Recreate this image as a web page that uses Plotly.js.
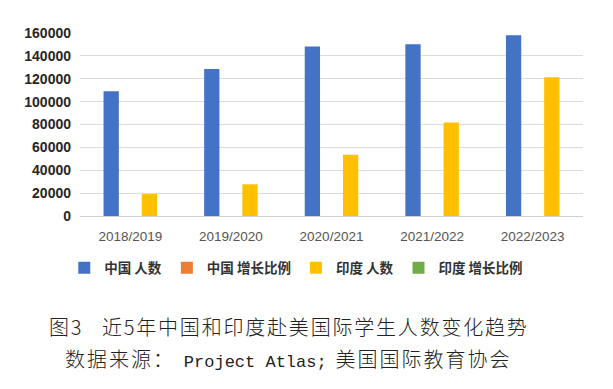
<!DOCTYPE html>
<html>
<head>
<meta charset="utf-8">
<script src="https://cdn.plot.ly/plotly-3.0.1.min.js"></script>
<style>
html,body{margin:0;padding:0;background:#fff;}
#chart{width:613px;height:389px;}
</style>
</head>
<body>
<div id="chart"></div>
<script>
// Data
const categories = ['2018/2019', '2019/2020', '2020/2021', '2021/2022', '2022/2023'];
const chinaStudents = [109000, 128500, 148300, 150100, 158000];
const chinaGrowth = [0, 0, 0, 0, 0];
const indiaStudents = [19200, 27700, 53500, 81700, 121300];
const indiaGrowth = [0, 0, 0, 0, 0];
const seriesNames = ['中国 人数', '中国 增长比例', '印度 人数', '印度 增长比例'];
const yTicks = [0, 20000, 40000, 60000, 80000, 100000, 120000, 140000, 160000];

const colors = ['#4472C4', '#ED7D31', '#FFC000', '#70AD47'];
const groups = ['china', 'china', 'india', 'india'];
const values = [chinaStudents, chinaGrowth, indiaStudents, indiaGrowth];

const traces = values.map((v, i) => ({
  type: 'bar',
  x: categories,
  y: v,
  name: seriesNames[i],
  offsetgroup: groups[i],
  marker: {color: colors[i], line: {width: 0}},
  hoverinfo: 'x+y+name'
}));

const cjk = '"Noto Sans CJK SC", "Noto Sans", sans-serif';

const layout = {
  width: 613,
  height: 389,
  margin: {l: 80, r: 30, t: 33, b: 173},
  paper_bgcolor: '#ffffff',
  plot_bgcolor: '#ffffff',
  barmode: 'group',
  bargap: 0.24,
  bargroupgap: 0.6,
  showlegend: true,
  legend: {
    orientation: 'h',
    x: 0.43,
    xanchor: 'center',
    y: -0.284,
    yanchor: 'middle',
    itemwidth: 30,
    font: {family: cjk, size: 13.5, weight: 'bold', color: '#333333'},
    traceorder: 'normal'
  },
  xaxis: {
    type: 'category',
    showgrid: false,
    zeroline: false,
    showline: false,
    ticks: '',
    ticklabelstandoff: 10,
    tickfont: {family: '"Liberation Sans", Arial, sans-serif', size: 13.5, color: '#555555'}
  },
  yaxis: {
    range: [0, 160000],
    tickvals: yTicks,
    tickformat: 'd',
    showgrid: true,
    gridcolor: '#dcdcdc',
    gridwidth: 1,
    zeroline: true,
    zerolinecolor: '#d0d0d0',
    zerolinewidth: 1,
    showline: false,
    ticks: '',
    ticklabelstandoff: 8,
    tickfont: {family: '"Liberation Sans", Arial, sans-serif', size: 14, weight: 'bold', color: '#262626'}
  },
  annotations: [
    {
      xref: 'paper', yref: 'paper',
      x: 0.4155, y: -0.606,
      xanchor: 'center', yanchor: 'middle',
      showarrow: false,
      text: '<span style="letter-spacing:1.8px">图3&nbsp;&nbsp;&nbsp;近5年中国和印度赴美国际学生人数变化趋势</span>',
      font: {family: cjk, size: 20, color: '#222222', weight: 300}
    },
    {
      xref: 'paper', yref: 'paper',
      x: 0.4155, y: -0.776,
      xanchor: 'center', yanchor: 'middle',
      showarrow: false,
      text: '<span style="letter-spacing:2px">数据来源：</span>&nbsp;&nbsp;<span style="font-family:\'Liberation Mono\', monospace;font-size:17px">Project Atlas;</span>&nbsp;&nbsp;<span style="letter-spacing:2px">美国国际教育协会</span>',
      font: {family: cjk, size: 20, color: '#222222', weight: 300}
    }
  ]
};

Plotly.newPlot('chart', traces, layout, {displayModeBar: false, staticPlot: true});
</script>
</body>
</html>
